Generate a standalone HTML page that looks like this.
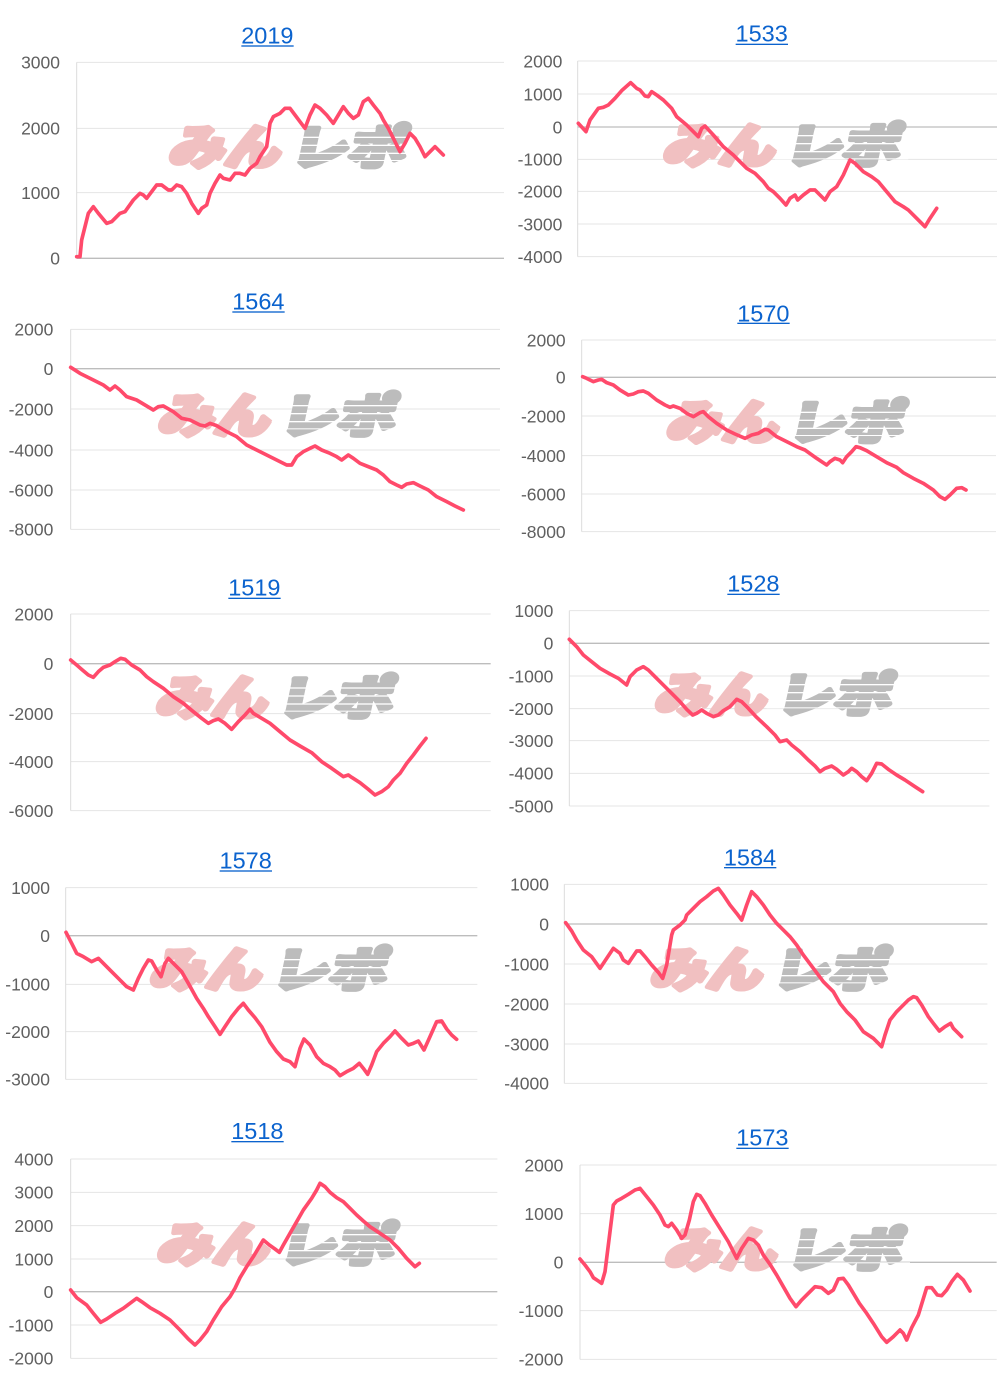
<!DOCTYPE html>
<html><head><meta charset="utf-8"><style>
html,body{margin:0;padding:0;background:#fff;}
svg{display:block;}
.t{font-family:"Liberation Sans",Arial,sans-serif;font-size:70.5px;fill:#0b63ce;text-anchor:middle;}
.l{font-family:"Liberation Sans",Arial,sans-serif;font-size:52.5px;fill:#606060;text-anchor:end;}
.g{stroke:#e4e4e4;stroke-width:3;}
.z{stroke:#bdbdbd;stroke-width:4;}
.a{stroke:#dcdcdc;stroke-width:3;}
.s{fill:none;stroke:#ff4a6b;stroke-width:11;stroke-linejoin:round;stroke-linecap:round;}
.wp{font-family:"Noto Sans CJK JP","IPAGothic",sans-serif;font-weight:900;font-size:140px;fill:#f1c0c1;stroke:#f1c0c1;stroke-width:14;stroke-linejoin:round;}
.wg{font-family:"Noto Sans CJK JP","IPAGothic",sans-serif;font-weight:900;font-size:140px;fill:#bcbcbc;stroke:#bcbcbc;stroke-width:14;stroke-linejoin:round;}
</style></head><body>
<svg width="1000" height="1383" viewBox="0 0 1000 1383" xmlns="http://www.w3.org/2000/svg">
<defs>
<g id="wm">
  <g transform="skewX(-12)">
    <text class="wp" x="30" y="112" textLength="335" lengthAdjust="spacingAndGlyphs">みん</text>
    <text class="wg" x="395" y="112" textLength="345" lengthAdjust="spacingAndGlyphs">レポ</text>
  </g>
  <g fill="#fff">
    <rect x="360" y="30" width="380" height="4"/>
    <rect x="355" y="54" width="390" height="4"/>
    <rect x="350" y="78" width="395" height="4"/>
    <rect x="345" y="100" width="400" height="3"/>
  </g>
</g>
</defs>

<!-- Chart 1: 2019 -->
<g transform="translate(0,0) scale(0.333333)">
  <text class="t" x="802" y="130">2019</text>
  <rect x="724" y="136" width="157" height="4" fill="#0b63ce"/>
  <line class="g" x1="230" y1="187" x2="1512" y2="187"/>
  <line class="g" x1="230" y1="385" x2="1512" y2="385"/>
  <line class="g" x1="230" y1="578" x2="1512" y2="578"/>
  <line class="a" x1="230" y1="187" x2="230" y2="775"/>
  <line class="z" x1="230" y1="775" x2="1512" y2="775"/>
  <text class="l" x="180" y="206">3000</text>
  <text class="l" x="180" y="404">2000</text>
  <text class="l" x="180" y="597">1000</text>
  <text class="l" x="180" y="794">0</text>
  <use href="#wm" x="497" y="380"/>
  <polyline class="s" points="230,770 240,770 245,720 265,640 280,620 295,640 320,670 335,665 360,640 375,635 400,600 420,580 430,585 440,595 470,555 485,555 505,570 515,570 530,555 545,560 560,580 575,610 595,640 605,625 620,615 630,580 645,550 660,525 670,535 690,540 705,520 720,520 735,525 750,505 770,490 780,470 800,440 810,370 820,350 840,340 855,325 870,325 885,345 900,365 915,385 930,345 945,315 960,325 980,345 1000,370 1015,345 1030,320 1045,340 1060,355 1075,345 1090,305 1105,295 1120,315 1140,340 1150,360 1165,385 1180,415 1200,455 1215,430 1230,400 1245,415 1260,440 1275,470 1290,455 1305,440 1315,450 1330,465"/>
</g>

<!-- Chart 2: 1533 -->
<g transform="translate(500,0) scale(0.333333)">
  <text class="t" x="785" y="125">1533</text>
  <rect x="707" y="131" width="157" height="4" fill="#0b63ce"/>
  <line class="g" x1="233" y1="183" x2="1491" y2="183"/>
  <line class="g" x1="233" y1="282" x2="1491" y2="282"/>
  <line class="g" x1="233" y1="478" x2="1491" y2="478"/>
  <line class="g" x1="233" y1="574" x2="1491" y2="574"/>
  <line class="g" x1="233" y1="672" x2="1491" y2="672"/>
  <line class="g" x1="233" y1="770" x2="1491" y2="770"/>
  <line class="a" x1="233" y1="183" x2="233" y2="770"/>
  <line class="z" x1="233" y1="381" x2="1491" y2="381"/>
  <text class="l" x="187" y="202">2000</text>
  <text class="l" x="187" y="301">1000</text>
  <text class="l" x="187" y="400">0</text>
  <text class="l" x="187" y="497">-1000</text>
  <text class="l" x="187" y="593">-2000</text>
  <text class="l" x="187" y="691">-3000</text>
  <text class="l" x="187" y="789">-4000</text>
  <use href="#wm" x="480" y="375"/>
  <polyline class="s" points="235,370 258,395 270,360 295,325 310,322 325,315 345,295 365,272 392,248 410,265 420,270 435,288 445,290 455,275 470,285 490,300 515,325 530,350 560,375 580,395 595,410 605,385 615,378 640,405 670,440 700,465 720,485 740,505 765,520 790,545 805,565 820,575 840,595 858,615 870,595 885,585 893,600 910,585 930,570 945,570 960,585 975,600 990,575 1010,560 1030,525 1050,480 1065,490 1090,515 1115,530 1135,545 1160,575 1185,605 1210,620 1225,630 1250,655 1275,680 1290,655 1310,625"/>
</g>

<!-- Chart 3: 1564 -->
<g transform="translate(0,280) scale(0.333333)">
  <text class="t" x="775" y="88">1564</text>
  <rect x="697" y="94" width="157" height="4" fill="#0b63ce"/>
  <line class="g" x1="212" y1="148" x2="1500" y2="148"/>
  <line class="g" x1="212" y1="387" x2="1500" y2="387"/>
  <line class="g" x1="212" y1="510" x2="1500" y2="510"/>
  <line class="g" x1="212" y1="630" x2="1500" y2="630"/>
  <line class="g" x1="212" y1="748" x2="1500" y2="748"/>
  <line class="a" x1="212" y1="148" x2="212" y2="748"/>
  <line class="z" x1="212" y1="266" x2="1500" y2="266"/>
  <text class="l" x="160" y="167">2000</text>
  <text class="l" x="160" y="285">0</text>
  <text class="l" x="160" y="406">-2000</text>
  <text class="l" x="160" y="529">-4000</text>
  <text class="l" x="160" y="649">-6000</text>
  <text class="l" x="160" y="767">-8000</text>
  <use href="#wm" x="465" y="345"/>
  <polyline class="s" points="212,262 240,280 280,300 310,315 330,330 345,318 360,330 380,350 410,360 440,378 460,390 475,380 490,378 520,395 545,415 570,420 600,435 615,438 630,430 650,437 680,455 710,470 740,495 770,510 800,525 830,540 860,555 875,555 890,530 910,515 930,505 945,498 965,510 990,520 1010,530 1025,540 1045,525 1060,535 1080,550 1100,558 1130,570 1150,585 1170,605 1190,615 1205,622 1220,612 1240,608 1260,618 1285,630 1310,650 1340,665 1365,678 1390,690"/>
</g>

<!-- Chart 4: 1570 -->
<g transform="translate(500,280) scale(0.333333)">
  <text class="t" x="790" y="125">1570</text>
  <rect x="712" y="128" width="157" height="4" fill="#0b63ce"/>
  <line class="g" x1="245" y1="180" x2="1488" y2="180"/>
  <line class="g" x1="245" y1="408" x2="1488" y2="408"/>
  <line class="g" x1="245" y1="527" x2="1488" y2="527"/>
  <line class="g" x1="245" y1="642" x2="1488" y2="642"/>
  <line class="g" x1="245" y1="755" x2="1488" y2="755"/>
  <line class="a" x1="245" y1="180" x2="245" y2="755"/>
  <line class="z" x1="245" y1="292" x2="1488" y2="292"/>
  <text class="l" x="197" y="199">2000</text>
  <text class="l" x="197" y="311">0</text>
  <text class="l" x="197" y="427">-2000</text>
  <text class="l" x="197" y="546">-4000</text>
  <text class="l" x="197" y="661">-6000</text>
  <text class="l" x="197" y="774">-8000</text>
  <use href="#wm" x="490" y="365"/>
  <polyline class="s" points="248,290 260,295 280,305 295,300 305,298 320,308 340,315 360,330 385,345 400,342 415,335 430,333 445,340 470,360 495,375 510,382 520,378 540,385 560,400 580,410 600,398 610,395 625,410 650,430 680,450 705,462 735,475 755,465 775,460 795,448 805,450 830,470 860,485 890,500 915,510 950,535 980,555 990,545 1005,535 1020,540 1028,548 1040,530 1055,515 1068,500 1080,503 1100,512 1130,530 1160,548 1190,562 1210,578 1240,595 1270,610 1300,630 1320,650 1335,658 1350,645 1370,625 1385,623 1398,630"/>
</g>

<!-- Chart 5: 1519 -->
<g transform="translate(0,560) scale(0.333333)">
  <text class="t" x="763" y="107">1519</text>
  <rect x="685" y="113" width="157" height="4" fill="#0b63ce"/>
  <line class="g" x1="212" y1="162" x2="1472" y2="162"/>
  <line class="g" x1="212" y1="461" x2="1472" y2="461"/>
  <line class="g" x1="212" y1="605" x2="1472" y2="605"/>
  <line class="g" x1="212" y1="752" x2="1472" y2="752"/>
  <line class="a" x1="212" y1="162" x2="212" y2="752"/>
  <line class="z" x1="212" y1="311" x2="1472" y2="311"/>
  <text class="l" x="160" y="181">2000</text>
  <text class="l" x="160" y="330">0</text>
  <text class="l" x="160" y="480">-2000</text>
  <text class="l" x="160" y="624">-4000</text>
  <text class="l" x="160" y="771">-6000</text>
  <use href="#wm" x="458" y="352"/>
  <polyline class="s" points="212,300 230,315 245,328 265,345 280,352 295,335 310,322 330,315 345,305 362,295 375,298 395,315 420,330 440,350 460,365 490,385 520,410 550,430 580,455 605,475 625,490 640,482 655,477 675,490 695,508 715,485 735,465 750,448 760,460 785,475 810,490 840,515 870,540 900,558 935,578 965,605 995,625 1030,650 1045,645 1055,652 1080,668 1105,688 1125,705 1145,695 1165,680 1180,660 1200,640 1220,610 1240,585 1260,558 1278,535"/>
</g>

<!-- Chart 6: 1528 -->
<g transform="translate(500,560) scale(0.333333)">
  <text class="t" x="760" y="95">1528</text>
  <rect x="682" y="101" width="157" height="4" fill="#0b63ce"/>
  <line class="g" x1="208" y1="152" x2="1468" y2="152"/>
  <line class="g" x1="208" y1="348" x2="1468" y2="348"/>
  <line class="g" x1="208" y1="446" x2="1468" y2="446"/>
  <line class="g" x1="208" y1="542" x2="1468" y2="542"/>
  <line class="g" x1="208" y1="640" x2="1468" y2="640"/>
  <line class="g" x1="208" y1="738" x2="1468" y2="738"/>
  <line class="a" x1="208" y1="152" x2="208" y2="738"/>
  <line class="z" x1="208" y1="250" x2="1468" y2="250"/>
  <text class="l" x="160" y="171">1000</text>
  <text class="l" x="160" y="269">0</text>
  <text class="l" x="160" y="367">-1000</text>
  <text class="l" x="160" y="465">-2000</text>
  <text class="l" x="160" y="561">-3000</text>
  <text class="l" x="160" y="659">-4000</text>
  <text class="l" x="160" y="757">-5000</text>
  <use href="#wm" x="455" y="342"/>
  <polyline class="s" points="208,238 230,260 250,285 275,305 300,325 330,342 355,355 380,375 390,350 410,330 430,320 445,330 465,350 490,375 515,400 540,425 560,448 578,465 590,460 605,450 620,460 640,470 655,465 670,452 690,440 710,418 725,425 745,445 770,472 800,500 825,525 840,545 860,540 875,555 900,575 925,600 945,618 960,635 975,625 995,618 1010,628 1030,645 1045,635 1055,625 1070,635 1085,650 1100,662 1115,640 1130,610 1145,612 1165,628 1190,645 1215,660 1245,680 1268,695"/>
</g>

<!-- Chart 7: 1578 -->
<g transform="translate(0,835) scale(0.333333)">
  <text class="t" x="737" y="101">1578</text>
  <rect x="659" y="106" width="157" height="4" fill="#0b63ce"/>
  <line class="g" x1="197" y1="158" x2="1432" y2="158"/>
  <line class="g" x1="197" y1="448" x2="1432" y2="448"/>
  <line class="g" x1="197" y1="590" x2="1432" y2="590"/>
  <line class="g" x1="197" y1="733" x2="1432" y2="733"/>
  <line class="a" x1="197" y1="158" x2="197" y2="733"/>
  <line class="z" x1="197" y1="302" x2="1432" y2="302"/>
  <text class="l" x="150" y="177">1000</text>
  <text class="l" x="150" y="321">0</text>
  <text class="l" x="150" y="467">-1000</text>
  <text class="l" x="150" y="609">-2000</text>
  <text class="l" x="150" y="752">-3000</text>
  <use href="#wm" x="440" y="342"/>
  <polyline class="s" points="198,292 215,325 230,355 250,365 275,380 295,370 310,385 335,410 360,435 380,455 400,465 415,430 430,400 445,375 455,378 470,405 483,425 495,385 505,370 520,385 545,410 565,445 590,490 610,520 625,545 645,575 660,598 675,575 695,545 715,520 730,505 745,525 765,548 785,575 810,622 830,650 850,672 870,680 885,695 900,640 912,612 930,630 950,665 970,685 990,695 1005,705 1020,722 1040,710 1060,700 1078,685 1090,700 1103,718 1115,690 1130,650 1150,625 1170,605 1185,588 1205,610 1225,630 1240,625 1255,618 1272,645 1290,605 1310,560 1325,558 1340,582 1355,600 1370,613"/>
</g>

<!-- Chart 8: 1584 -->
<g transform="translate(500,835) scale(0.333333)">
  <text class="t" x="750" y="91">1584</text>
  <rect x="672" y="96" width="157" height="4" fill="#0b63ce"/>
  <line class="g" x1="193" y1="148" x2="1462" y2="148"/>
  <line class="g" x1="193" y1="387" x2="1462" y2="387"/>
  <line class="g" x1="193" y1="507" x2="1462" y2="507"/>
  <line class="g" x1="193" y1="627" x2="1462" y2="627"/>
  <line class="g" x1="193" y1="745" x2="1462" y2="745"/>
  <line class="a" x1="193" y1="148" x2="193" y2="745"/>
  <line class="z" x1="193" y1="267" x2="1462" y2="267"/>
  <text class="l" x="147" y="167">1000</text>
  <text class="l" x="147" y="286">0</text>
  <text class="l" x="147" y="406">-1000</text>
  <text class="l" x="147" y="526">-2000</text>
  <text class="l" x="147" y="646">-3000</text>
  <text class="l" x="147" y="764">-4000</text>
  <use href="#wm" x="442" y="342"/>
  <polyline class="s" points="197,263 215,288 230,315 250,345 275,365 300,400 320,370 340,340 360,355 370,375 385,385 395,370 410,348 420,348 435,365 455,390 475,412 488,430 500,390 515,300 520,285 540,270 555,255 560,240 580,220 600,200 620,185 640,168 655,160 670,180 690,210 710,235 725,255 740,210 755,170 770,185 790,210 810,240 830,265 850,285 870,305 890,330 910,360 940,400 970,440 1000,470 1020,505 1040,530 1065,555 1090,590 1120,610 1145,635 1155,600 1170,555 1190,530 1210,510 1225,495 1240,485 1250,488 1265,510 1285,545 1300,565 1318,588 1335,575 1352,565 1360,580 1375,595 1385,605"/>
</g>

<!-- Chart 9: 1518 -->
<g transform="translate(0,1105) scale(0.333333)">
  <text class="t" x="772" y="102">1518</text>
  <rect x="694" y="108" width="157" height="4" fill="#0b63ce"/>
  <line class="g" x1="212" y1="162" x2="1492" y2="162"/>
  <line class="g" x1="212" y1="262" x2="1492" y2="262"/>
  <line class="g" x1="212" y1="362" x2="1492" y2="362"/>
  <line class="g" x1="212" y1="462" x2="1492" y2="462"/>
  <line class="g" x1="212" y1="660" x2="1492" y2="660"/>
  <line class="g" x1="212" y1="760" x2="1492" y2="760"/>
  <line class="a" x1="212" y1="162" x2="212" y2="760"/>
  <line class="z" x1="212" y1="560" x2="1492" y2="560"/>
  <text class="l" x="160" y="181">4000</text>
  <text class="l" x="160" y="281">3000</text>
  <text class="l" x="160" y="381">2000</text>
  <text class="l" x="160" y="481">1000</text>
  <text class="l" x="160" y="579">0</text>
  <text class="l" x="160" y="679">-1000</text>
  <text class="l" x="160" y="779">-2000</text>
  <use href="#wm" x="462" y="357"/>
  <polyline class="s" points="212,555 230,578 260,600 280,625 302,652 320,642 345,625 370,610 390,595 410,580 425,590 450,608 480,625 510,645 540,675 565,702 585,720 600,705 620,680 640,645 665,605 690,575 705,550 720,518 740,485 760,455 775,430 790,405 808,420 825,432 838,442 850,420 870,385 890,350 910,315 935,280 950,255 960,235 975,245 990,262 1010,278 1030,290 1050,310 1070,330 1090,348 1110,365 1140,385 1170,405 1195,430 1220,460 1245,485 1258,475"/>
</g>

<!-- Chart 10: 1573 -->
<g transform="translate(500,1105) scale(0.333333)">
  <text class="t" x="787" y="122">1573</text>
  <rect x="709" y="128" width="157" height="4" fill="#0b63ce"/>
  <line class="g" x1="240" y1="180" x2="1490" y2="180"/>
  <line class="g" x1="240" y1="326" x2="1490" y2="326"/>
  <line class="g" x1="240" y1="617" x2="1490" y2="617"/>
  <line class="g" x1="240" y1="763" x2="1490" y2="763"/>
  <line class="a" x1="240" y1="180" x2="240" y2="763"/>
  <line class="z" x1="240" y1="472" x2="1490" y2="472"/>
  <text class="l" x="190" y="199">2000</text>
  <text class="l" x="190" y="345">1000</text>
  <text class="l" x="190" y="491">0</text>
  <text class="l" x="190" y="636">-1000</text>
  <text class="l" x="190" y="782">-2000</text>
  <use href="#wm" x="485" y="372"/>
  <polyline class="s" points="240,462 255,480 270,500 280,518 295,528 305,535 315,500 330,380 340,300 350,288 365,280 385,268 405,255 420,250 440,275 460,300 480,330 495,360 505,365 515,355 530,375 545,400 555,390 568,345 580,290 590,268 600,272 615,295 635,330 660,370 685,410 710,460 725,430 745,400 760,405 775,420 790,450 810,478 830,510 850,545 870,580 888,605 905,585 925,565 945,545 965,548 985,565 1000,555 1015,522 1030,520 1045,540 1060,565 1078,595 1100,625 1120,655 1145,695 1160,712 1180,695 1200,675 1210,685 1220,705 1235,668 1255,630 1280,548 1295,548 1312,570 1325,572 1340,555 1355,530 1372,508 1390,525 1410,558"/>
</g>
</svg>
</body></html>
